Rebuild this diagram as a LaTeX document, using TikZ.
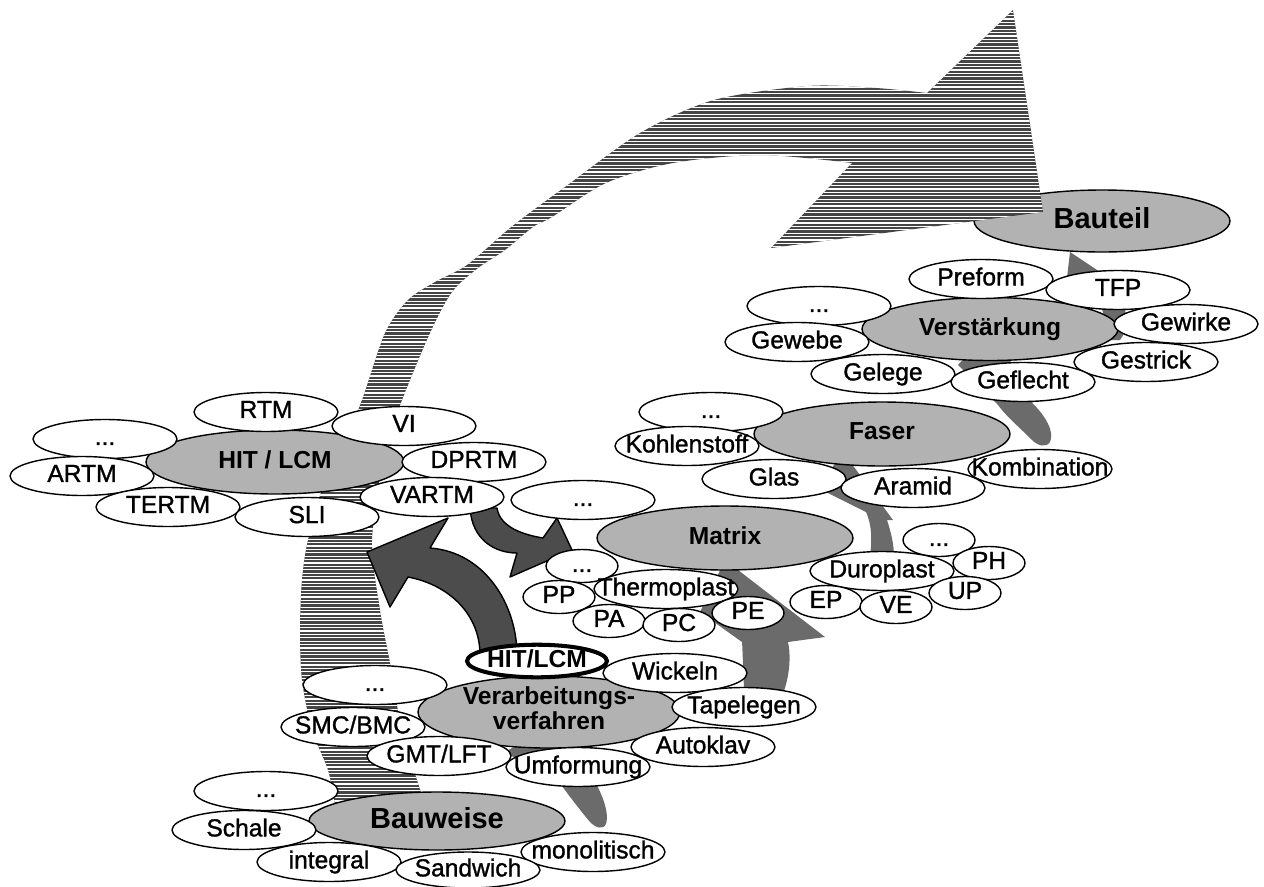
\documentclass[tikz,border=0pt]{standalone}
\usepackage{fontspec}
\setmainfont{Liberation Sans}
\newfontfamily\labelfont{Liberation Sans}[FakeBold=1.2]
\usetikzlibrary{shapes.geometric}
\definecolor{groupgray}{gray}{0.7}
\definecolor{stripegray}{gray}{0.27}
\definecolor{hitgray}{gray}{0.3}
\definecolor{chaingray}{gray}{0.42}

\begin{document}
\begin{tikzpicture}[x=0.02cm,y=-0.02cm,
    item/.style={ellipse,draw,fill=white,line width=0.8pt,inner sep=0pt,
      minimum width=2.88cm,minimum height=0.78cm,
      font=\labelfont\fontsize{14}{15}\selectfont,
      execute at begin node={\hbox to 0pt\bgroup\hss\vphantom{Ag}},
      execute at end node={\hss\egroup}},
    tiny/.style={item,minimum width=1.44cm,minimum height=0.66cm},
    group/.style={item,fill=groupgray,minimum width=5.12cm,minimum height=1.26cm,
      font=\fontsize{14}{15}\selectfont\bfseries},
    big/.style={group,font=\fontsize{16.5}{18}\selectfont\bfseries},
    chain/.style={fill=chaingray},
    hitarrow/.style={fill=hitgray,draw=black,line width=0.8pt,line join=round}]
    \useasboundingbox (0,0) rectangle (1264,886);

    % Ziel
    \node[big,minimum height=1.24cm] (bauteil) at (1102,221) {Bauteil};

    % grosser Pfeil (gestreift)
    \begin{scope}
      \clip plot[smooth,tension=0.5] coordinates {(335,805) (328,770) (312,730) (302,680) (300,630)
            (302,580) (308,540) (325,480) (345,440) (362,400) (385,333) (408,300) (435,282)
            (467,265) (510,228) (547,200) (565,187) (640,133) (714,100) (808,86) (876,88) (927,93)}
        -- (1013,10) -- (1043,212) -- (771,248) -- (852,163)
        -- plot[smooth,tension=0.5] coordinates {(852,163) (761,155) (673,163) (606,183) (552,217)
            (533,227) (505,250) (478,268) (452,292) (430,333) (402,400) (385,450) (372,540)
            (380,610) (390,663) (402,730) (425,805)}
        -- cycle;
      \fill[stripegray] (280,0) rectangle (1060,820);
      \foreach \yy in {2,5.4,...,820}
        \draw[white,line width=0.6pt] (280,\yy) -- (1060,\yy);
    \end{scope}

    % Kette Bauweise -> ... -> Bauteil
    \fill[chain] (535,735) -- (588,768) .. controls (600,790) and (610,810) .. (606,824)
        .. controls (603,830) and (596,828) .. (590,822)
        .. controls (580,810) and (570,797) .. (562,786) -- (505,752) -- cycle;
    \fill[chain] (725,560) -- (825,637) -- (788,642) .. controls (792,660) and (788,685) .. (780,700)
        -- (745,700) .. controls (743,680) and (743,655) .. (742,642) -- (700,612) -- cycle;
    \fill[chain] (843,452) -- (893,520) -- (887,520) .. controls (891,532) and (894,545) .. (894,556)
        -- (870,556) .. controls (872,540) and (872,525) .. (866,512) -- (818,488) -- cycle;
    \fill[chain] (985,335) -- (1040,392) -- (1032,403) .. controls (1045,415) and (1055,432) .. (1050,442)
        .. controls (1046,448) and (1038,446) .. (1032,440)
        .. controls (1020,428) and (1005,415) .. (998,405) -- (958,365) -- cycle;
    \fill[chain] (1070,252) -- (1103,274) -- (1122,300) .. controls (1128,315) and (1128,330) .. (1120,340)
        -- (1106,340) .. controls (1108,320) and (1100,298) .. (1088,286) -- (1066,286) -- cycle;

    % HIT/LCM Pfeile
    \draw[hitarrow] (517,655) .. controls (517,605) and (485,552) .. (430,548) -- (448,518) -- (367,552)
        -- (390,607) -- (408,577) .. controls (450,585) and (480,615) .. (480,655) -- cycle;
    \draw[hitarrow] (470,508) .. controls (472,540) and (495,553) .. (517,553) -- (510,577) -- (572,550)
        -- (557,518) -- (543,538) .. controls (525,535) and (500,528) .. (497,508) -- cycle;

    % Gruppen
    \node[group] (verst) at (990,329) {Verstärkung};
    \node[group,minimum height=1.28cm] (faser) at (882,434) {Faser};
    \node[group,minimum height=1.28cm] (matrix) at (725,538) {Matrix};
    \node[group,minimum width=5.16cm,minimum height=1.28cm] (hit) at (275,462) {HIT / LCM};
    \node[group,minimum width=5.24cm,minimum height=1.3cm] (verarb) at (549,712)
        {\begin{tabular}{@{}c@{}}Verarbeitungs-\\[-1pt]verfahren\end{tabular}};
    \node[big,minimum height=1.16cm] (bauweise) at (437,821) {Bauweise};

    % Verstaerkung
    \node[item] (preform) at (981,279) {Preform};
    \node[item] (tfp) at (1118,290) {TFP};
    \node[item] (vdots) at (819,306) {...};
    \node[item] (gewirke) at (1186,324) {Gewirke};
    \node[item] (gewebe) at (797,342) {Gewebe};
    \node[item] (gestrick) at (1146,362) {Gestrick};
    \node[item] (gelege) at (883,374) {Gelege};
    \node[item] (geflecht) at (1023,382) {Geflecht};

    % Faser
    \node[item] (fdots) at (711,412) {...};
    \node[item] (kohle) at (687,446) {Kohlenstoff};
    \node[item] (kombi) at (1040,469) {Kombination};
    \node[item] (glas) at (774,479) {Glas};
    \node[item] (aramid) at (913,488) {Aramid};

    % Matrix
    \node[item] (mdots) at (583,500) {...};
    \node[tiny] (tdots) at (582,566) {...};
    \node[tiny] (pp) at (559,597) {PP};
    \node[item] (thermo) at (666,589) {Thermoplast};
    \node[tiny] (pa) at (609,621) {PA};
    \node[tiny] (pc) at (679,625) {PC};
    \node[tiny] (pe) at (748,613) {PE};
    \node[tiny] (ddots) at (939,540) {...};
    \node[item] (duro) at (882,571) {Duroplast};
    \node[tiny] (ph) at (989,563) {PH};
    \node[tiny] (ep) at (826,602) {EP};
    \node[tiny] (ve) at (896,607) {VE};
    \node[tiny] (up) at (965,593) {UP};

    % HIT / LCM
    \node[item] (hdots) at (105,439) {...};
    \node[item] (rtm) at (266,412) {RTM};
    \node[item] (vi) at (404,426) {VI};
    \node[item] (artm) at (82,476) {ARTM};
    \node[item] (dprtm) at (474,462) {DPRTM};
    \node[item] (tertm) at (168,507) {TERTM};
    \node[item] (sli) at (307,517) {SLI};
    \node[item] (vartm) at (432,497) {VARTM};

    % Verarbeitungsverfahren
    \node[item,line width=2.3pt,minimum width=2.8cm,minimum height=0.6cm,
        font=\fontsize{14}{15}\selectfont\bfseries] (hitb) at (537,661) {HIT/LCM};
    \node[item] (wickeln) at (675,673) {Wickeln};
    \node[item] (adots) at (375,685) {...};
    \node[item] (tape) at (744,707) {Tapelegen};
    \node[item] (smc) at (353,727) {SMC/BMC};
    \node[item] (auto) at (703,747) {Autoklav};
    \node[item] (gmt) at (439,756) {GMT/LFT};
    \node[item] (umf) at (578,767) {Umformung};

    % Bauweise
    \node[item] (bdots) at (266,791) {...};
    \node[item] (schale) at (244,830) {Schale};
    \node[item] (mono) at (593,852) {monolitisch};
    \node[item] (integral) at (329,862) {integral};
    \node[item,minimum height=0.72cm] (sandwich) at (468,870) {Sandwich};
\end{tikzpicture}
\end{document}
